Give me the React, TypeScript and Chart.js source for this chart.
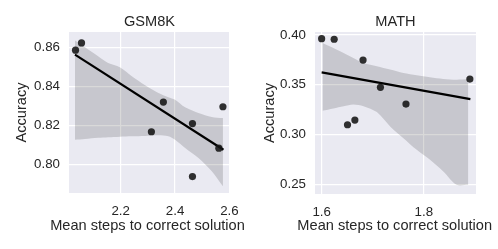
import React, { useEffect, useRef } from "react";
import { Chart, registerables } from "chart.js";

Chart.register(...registerables);

// ---------- GSM8K ----------
const gsmSteps = [2.034, 2.056, 2.357, 2.313, 2.464, 2.464, 2.561, 2.576];
const gsmAcc = [0.8585, 0.8622, 0.832, 0.8168, 0.821, 0.7939, 0.8084, 0.8296];
const gsmFitX = [2.032, 2.578];
const gsmFitY = [0.8562, 0.8076];
const gsmBandX = [2.032, 2.069, 2.117, 2.154, 2.197, 2.241, 2.29, 2.339, 2.375, 2.4, 2.437, 2.486, 2.535, 2.576];
const gsmBandUpper = [0.8634, 0.86, 0.8554, 0.852, 0.8498, 0.8452, 0.8406, 0.8366, 0.8345, 0.8332, 0.8293, 0.8264, 0.8244, 0.8238];
const gsmBandLower = [0.8127, 0.8131, 0.8137, 0.814, 0.8143, 0.8145, 0.8147, 0.815, 0.8145, 0.8127, 0.8085, 0.8034, 0.7966, 0.7889];
const gsmXTicks = [2.2, 2.4, 2.6];
const gsmYTicks = [0.8, 0.82, 0.84, 0.86];

// ---------- MATH ----------
const mathSteps = [1.6, 1.6245, 1.6506, 1.665, 1.681, 1.715, 1.765, 1.89];
const mathAcc = [0.3963, 0.3957, 0.3098, 0.3145, 0.3748, 0.3474, 0.3306, 0.3557];
const mathFitX = [1.6, 1.891];
const mathFitY = [0.3625, 0.3356];
const mathBandX = [1.6016, 1.623, 1.643, 1.662, 1.682, 1.708, 1.734, 1.76, 1.786, 1.812, 1.838, 1.864, 1.887];
const mathBandUpper = [0.392, 0.387, 0.3819, 0.3769, 0.3719, 0.3686, 0.3652, 0.3618, 0.3595, 0.3575, 0.3558, 0.3551, 0.3558];
const mathBandLower = [0.3238, 0.3262, 0.3285, 0.3302, 0.3285, 0.3225, 0.3081, 0.2963, 0.2846, 0.2745, 0.2628, 0.2494, 0.2494];
const mathXTicks = [1.6, 1.8];
const mathYTicks = [0.25, 0.3, 0.35, 0.4];

const FONT = "'Liberation Sans', Arial, sans-serif";
const TEXT = "#262626";

const bgPlugin = {
  id: "axbg",
  beforeDraw(chart: any) {
    const { ctx, chartArea } = chart;
    ctx.save();
    ctx.fillStyle = "#EAEAF2";
    ctx.fillRect(chartArea.left, chartArea.top, chartArea.right - chartArea.left, chartArea.bottom - chartArea.top);
    ctx.restore();
  },
};

// Widen the x scale's box after layout (pixel mapping is already fixed),
// so that its title is not squeezed to the plot width.
const widenTitlePlugin = (shift: number) => ({
  id: "widenXTitle",
  afterLayout(chart: any) {
    const s = chart.scales.x;
    s.left = s.left - 60 + shift;
    s.right = s.right + 60 + shift;
  },
});

interface PanelProps {
  title: string;
  steps: number[];
  acc: number[];
  fitX: number[];
  fitY: number[];
  bandX: number[];
  bandUpper: number[];
  bandLower: number[];
  xTicks: number[];
  yTicks: number[];
  xMin: number;
  xMax: number;
  yMin: number;
  yMax: number;
  yAxisWidth: number;
  xAxisHeight: number;
  rightPad: number;
  yTitlePad: number;
  titleShift: number;
  left: number;
}

function Panel(p: PanelProps) {
  const ref = useRef<HTMLCanvasElement | null>(null);
  useEffect(() => {
    if (!ref.current) return;
    const pts = (xs: number[], ys: number[]) => xs.map((x, i) => ({ x, y: ys[i] }));
    const chart = new Chart(ref.current, {
      type: "line",
      data: {
        datasets: [
          {
            label: "points",
            data: pts(p.steps, p.acc),
            showLine: false,
            pointRadius: 3.6,
            pointBackgroundColor: "rgba(20,20,20,0.88)",
            pointBorderWidth: 0,
            order: 0,
          },
          {
            label: "fit",
            data: pts(p.fitX, p.fitY),
            borderColor: "#000000",
            borderWidth: 2.2,
            pointRadius: 0,
            fill: false,
            order: 1,
          },
          {
            label: "upper",
            data: pts(p.bandX, p.bandUpper),
            borderWidth: 0,
            borderColor: "rgba(0,0,0,0)",
            pointRadius: 0,
            backgroundColor: "rgba(0,0,0,0.15)",
            fill: "+1",
            tension: 0.3,
            order: 2,
          },
          {
            label: "lower",
            data: pts(p.bandX, p.bandLower),
            borderWidth: 0,
            borderColor: "rgba(0,0,0,0)",
            pointRadius: 0,
            fill: false,
            tension: 0.3,
            order: 3,
          },
        ],
      },
      options: {
        animation: false,
        responsive: false,
        maintainAspectRatio: false,
        layout: { padding: { left: 0, right: p.rightPad, top: 0, bottom: 0 } },
        plugins: {
          legend: { display: false },
          tooltip: { enabled: false },
          title: {
            display: true,
            fullSize: false,
            text: p.title,
            color: TEXT,
            font: { family: FONT, size: 14.6, weight: "normal", lineHeight: 1.2 },
            padding: { top: 13.2, bottom: 1.28 },
          },
        },
        scales: {
          x: {
            type: "linear",
            min: p.xMin,
            max: p.xMax,
            afterFit: (s: any) => {
              s.height = p.xAxisHeight;
            },
            afterBuildTicks: (s: any) => {
              s.ticks = p.xTicks.map((v) => ({ value: v }));
            },
            grid: { color: "#FFFFFF", lineWidth: 1.2, drawTicks: false },
            border: { display: false },
            ticks: {
              color: TEXT,
              padding: 10,
              font: { family: FONT, size: 13.3 },
              maxRotation: 0,
              callback: (v: any) => Number(v).toFixed(1),
            },
            title: {
              display: true,
              text: "Mean steps to correct solution",
              color: TEXT,
              font: { family: FONT, size: 14.6, lineHeight: 1.2 },
              padding: { top: 0, bottom: 14.2 },
            },
          },
          y: {
            type: "linear",
            min: p.yMin,
            max: p.yMax,
            afterFit: (s: any) => {
              s.width = p.yAxisWidth;
            },
            afterBuildTicks: (s: any) => {
              s.ticks = p.yTicks.map((v) => ({ value: v }));
            },
            grid: { color: "#FFFFFF", lineWidth: 1.2, drawTicks: false },
            border: { display: false },
            ticks: {
              color: TEXT,
              padding: 9,
              font: { family: FONT, size: 13.3 },
              callback: (v: any) => Number(v).toFixed(2),
            },
            title: {
              display: true,
              text: "Accuracy",
              color: TEXT,
              font: { family: FONT, size: 14.6, lineHeight: 1.2 },
              padding: { top: p.yTitlePad, bottom: 0 },
            },
          },
        },
      },
      plugins: [bgPlugin, widenTitlePlugin(p.titleShift)],
    } as any);
    return () => chart.destroy();
  }, []);
  return (
    <canvas
      ref={ref}
      width={249}
      height={249}
      style={{ position: "absolute", left: p.left, top: 0, width: 249, height: 249 }}
    />
  );
}

export default function App() {
  return (
    <div style={{ position: "absolute", left: 0, top: 0, width: 498, height: 249, background: "#ffffff" }}>
      <Panel
        title="GSM8K"
        steps={gsmSteps}
        acc={gsmAcc}
        fitX={gsmFitX}
        fitY={gsmFitY}
        bandX={gsmBandX}
        bandUpper={gsmBandUpper}
        bandLower={gsmBandLower}
        xTicks={gsmXTicks}
        yTicks={gsmYTicks}
        xMin={2.01}
        xMax={2.602}
        yMin={0.7855}
        yMax={0.8678}
        yAxisWidth={69}
        xAxisHeight={56}
        rightPad={19}
        yTitlePad={12.9}
        titleShift={-2}
        left={0}
      />
      <Panel
        title="MATH"
        steps={mathSteps}
        acc={mathAcc}
        fitX={mathFitX}
        fitY={mathFitY}
        bandX={mathBandX}
        bandUpper={mathBandUpper}
        bandLower={mathBandLower}
        xTicks={mathXTicks}
        yTicks={mathYTicks}
        xMin={1.587}
        xMax={1.902}
        yMin={0.2402}
        yMax={0.403}
        yAxisWidth={66}
        xAxisHeight={55}
        rightPad={22}
        yTitlePad={11.9}
        titleShift={-0.8}
        left={249}
      />
    </div>
  );
}
